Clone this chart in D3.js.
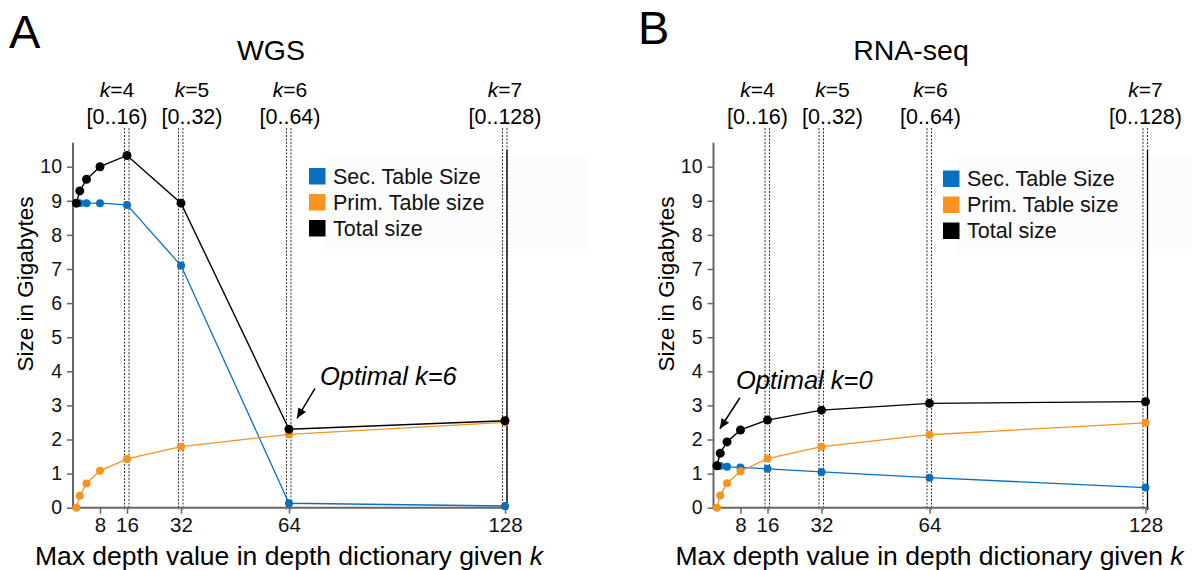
<!DOCTYPE html>
<meta charset="utf-8">
<style>
  body { margin: 0; background: #fff; }
  svg { font-family: "Liberation Sans", Arial, sans-serif; }
</style>
<svg width="1192" height="570"></svg>
<script src="https://cdnjs.cloudflare.com/ajax/libs/d3/7.8.5/d3.min.js"></script>
<script>

// max depth given k = 0..7
var maxDepth = [1, 2, 4, 8, 16, 32, 64, 128];

// WGS (GB)
var wgsSec   = [8.93, 8.93, 8.93, 8.93, 8.88, 7.10, 0.13, 0.05];
var wgsPrim  = [0.00, 0.35, 0.71, 1.08, 1.43, 1.79, 2.15, 2.50];
var wgsTotal = [8.93, 9.29, 9.63, 10.00, 10.33, 8.93, 2.30, 2.55];

// RNA-seq (GB)
var rnaSec   = [1.23, 1.22, 1.20, 1.18, 1.14, 1.05, 0.88, 0.59];
var rnaPrim  = [0.00, 0.36, 0.72, 1.07, 1.44, 1.79, 2.14, 2.49];
var rnaTotal = [1.23, 1.60, 1.93, 2.28, 2.57, 2.86, 3.06, 3.11];

var xTickValues = [8, 16, 32, 64, 128];
var yTickValues = [0, 1, 2, 3, 4, 5, 6, 7, 8, 9, 10];

var guideDepth = [16, 32, 64, 128];
var guideK     = ["4", "5", "6", "7"];
var guideRange = ["[0..16)", "[0..32)", "[0..64)", "[0..128)"];
var guideDx    = [-10, 11, 1, 0];

var seriesNames  = ["Sec. Table Size", "Prim. Table size", "Total size"];
var seriesColors = ["#0a6fc0", "#f7931e", "#000000"];

var svg = d3.select("svg");

var y = d3.scaleLinear().domain([0, 10]).range([507.7, 166.7]);

function panel(opt) {
  var g = svg.append("g");
  var x = d3.scaleLinear().domain([0, 128]).range([opt.x0, opt.x0 + 432]);

  // panel letter and title
  g.append("text").attr("x", opt.lx).attr("y", opt.ly)
    .attr("font-size", 47).text(opt.letter);
  g.append("text").attr("x", opt.tx).attr("y", 60)
    .attr("text-anchor", "middle").attr("font-size", 28.5).text(opt.title);

  // faint legend background
  g.append("rect").attr("x", opt.legX + 13).attr("y", 156)
    .attr("width", opt.legW).attr("height", 98).attr("fill", "#fcfcfc");

  // k guides
  guideDepth.forEach(function(d, i) {
    var gx = x(d);
    [-2.5, 2].forEach(function(o) {
      g.append("line").attr("x1", gx + o).attr("x2", gx + o)
        .attr("y1", 128).attr("y2", 510)
        .attr("stroke", "#333").attr("stroke-width", 1)
        .attr("stroke-dasharray", "2,1.5");
    });
    var t = g.append("text").attr("x", gx + guideDx[i]).attr("y", 97)
      .attr("text-anchor", "middle").attr("font-size", 21);
    t.append("tspan").attr("font-style", "italic").text("k");
    t.append("tspan").text("=" + guideK[i]);
    g.append("text").attr("x", gx + guideDx[i]).attr("y", 124)
      .attr("text-anchor", "middle").attr("font-size", 21.5).text(guideRange[i]);
  });
  // solid right edge at 128
  g.append("line").attr("x1", x(128) + 2).attr("x2", x(128) + 2)
    .attr("y1", 150).attr("y2", 510).attr("stroke", "#000").attr("stroke-width", 1.3);

  // axes
  var ya = g.append("g").attr("transform", "translate(" + opt.x0 + ",0)")
    .call(d3.axisLeft(y).tickValues(yTickValues).tickSize(6).tickSizeOuter(0).tickPadding(5));
  ya.select(".domain").remove();
  ya.selectAll("line").attr("stroke", "#666").attr("stroke-width", 1.5);
  ya.selectAll("text").attr("font-size", 19.5).attr("fill", "#111")
    .attr("font-family", "Liberation Sans, Arial, sans-serif");

  var xa = g.append("g").attr("transform", "translate(0," + y(0) + ")")
    .call(d3.axisBottom(x).tickValues(xTickValues).tickSize(6).tickSizeOuter(0).tickPadding(4));
  xa.select(".domain").remove();
  xa.selectAll("line").attr("stroke", "#666").attr("stroke-width", 1.5);
  xa.selectAll("text").attr("font-size", 20.5).attr("fill", "#111")
    .attr("font-family", "Liberation Sans, Arial, sans-serif");

  g.append("line").attr("x1", opt.x0).attr("x2", opt.x0)
    .attr("y1", y(0) + 1).attr("y2", y(10.7)).attr("stroke", "#666").attr("stroke-width", 2);
  g.append("line").attr("x1", opt.x0).attr("x2", x(129))
    .attr("y1", y(0)).attr("y2", y(0)).attr("stroke", "#666").attr("stroke-width", 2);

  // axis titles
  g.append("text").attr("transform", "translate(" + (opt.x0 - 40) + ",284) rotate(-90)")
    .attr("text-anchor", "middle").attr("font-size", 22.5).text("Size in Gigabytes");
  var xl = g.append("text").attr("x", opt.x0 + 216).attr("y", 565)
    .attr("text-anchor", "middle").attr("font-size", 26.5);
  xl.append("tspan").text("Max depth value in depth dictionary given ");
  xl.append("tspan").attr("font-style", "italic").text("k");

  // series
  var line = d3.line().x(function(d, i) { return x(maxDepth[i]); }).y(function(d) { return y(d); });
  opt.series.forEach(function(s, si) {
    g.append("path").datum(s).attr("d", line).attr("fill", "none")
      .attr("stroke", seriesColors[si]).attr("stroke-width", si == 2 ? 1.4 : 1.3);
    g.selectAll(null).data(s).enter().append("circle")
      .attr("cx", function(d, i) { return x(maxDepth[i]); })
      .attr("cy", function(d) { return y(d); })
      .attr("r", si == 2 ? 4.5 : 4)
      .attr("fill", seriesColors[si]);
  });

  // legend
  seriesNames.forEach(function(n, i) {
    var ly = opt.legY + i * 26;
    g.append("rect").attr("x", opt.legX).attr("y", ly)
      .attr("width", 16.5).attr("height", 16.5).attr("fill", seriesColors[i]);
    g.append("text").attr("x", opt.legX + 24).attr("y", ly + 15.5)
      .attr("font-size", 21.5).attr("fill", "#111").text(n);
  });

  // optimal annotation
  var px = x(maxDepth[opt.optK]), py = y(opt.series[2][opt.optK]);
  var a = opt.ann;
  g.append("text").attr("x", px + a.tx).attr("y", py + a.ty)
    .attr("font-size", 25.5).attr("font-style", "italic").text("Optimal k=" + opt.optK);
  var x1 = px + a.sx, y1 = py + a.sy, x2 = px + a.ex, y2 = py + a.ey;
  g.append("line").attr("x1", x1).attr("y1", y1).attr("x2", x2).attr("y2", y2)
    .attr("stroke", "#000").attr("stroke-width", 1.5);
  var ang = Math.atan2(y2 - y1, x2 - x1), hl = 10, hw = 4.5;
  var bx = x2 - hl * Math.cos(ang), by = y2 - hl * Math.sin(ang);
  g.append("path").attr("d", "M" + x2 + "," + y2 +
      "L" + (bx + hw * Math.sin(ang)) + "," + (by - hw * Math.cos(ang)) +
      "L" + (bx - hw * Math.sin(ang)) + "," + (by + hw * Math.cos(ang)) + "Z")
    .attr("fill", "#000");
}

panel({
  letter: "A", lx: 9, ly: 48, title: "WGS", tx: 271, x0: 73,
  legX: 309, legY: 168, legW: 268,
  series: [wgsSec, wgsPrim, wgsTotal], optK: 6,
  ann: { tx: 31, ty: -44, sx: 26, sy: -41, ex: 8, ey: -11 }
});

panel({
  letter: "B", lx: 638, ly: 44, title: "RNA-seq", tx: 911, x0: 713.5,
  legX: 943, legY: 170.5, legW: 236,
  series: [rnaSec, rnaPrim, rnaTotal], optK: 0,
  ann: { tx: 19, ty: -77, sx: 23, sy: -68, ex: 3, ey: -37 }
});

</script>
